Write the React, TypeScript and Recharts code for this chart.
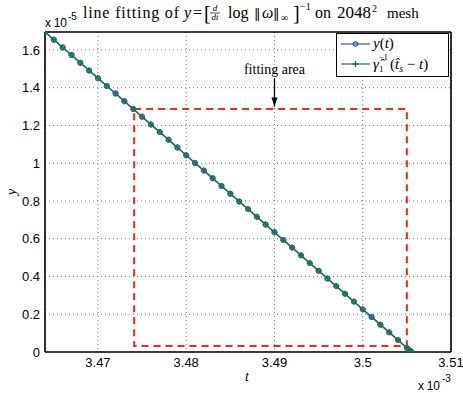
import React from "react";
import {
  LineChart,
  Line,
  XAxis,
  YAxis,
  CartesianGrid,
  ReferenceLine,
  ReferenceArea,
  ReferenceDot,
} from "recharts";

// t in units of 1e-3, y in units of 1e-5
const tValues = [
  3.464, 3.465, 3.466, 3.467, 3.468, 3.469, 3.47, 3.471, 3.472, 3.473, 3.474,
  3.475, 3.476, 3.477, 3.478, 3.479, 3.48, 3.481, 3.482, 3.483, 3.484, 3.485,
  3.486, 3.487, 3.488, 3.489, 3.49, 3.491, 3.492, 3.493, 3.494, 3.495, 3.496,
  3.497, 3.498, 3.499, 3.5, 3.501, 3.502, 3.503, 3.504, 3.505, 3.5053, 3.5055,
];
const yValues = [
  1.695, 1.654, 1.613, 1.573, 1.532, 1.491, 1.45, 1.409, 1.369, 1.328, 1.287,
  1.246, 1.205, 1.165, 1.124, 1.083, 1.042, 1.001, 0.961, 0.92, 0.879, 0.838,
  0.797, 0.757, 0.716, 0.675, 0.634, 0.593, 0.553, 0.512, 0.471, 0.43, 0.389,
  0.349, 0.308, 0.267, 0.226, 0.185, 0.145, 0.104, 0.063, 0.022, 0.01, 0.002,
];
const fitValues = [
  1.695, 1.654, 1.613, 1.573, 1.532, 1.491, 1.45, 1.409, 1.369, 1.328, 1.287,
  1.246, 1.205, 1.165, 1.124, 1.083, 1.042, 1.001, 0.961, 0.92, 0.879, 0.838,
  0.797, 0.757, 0.716, 0.675, 0.634, 0.593, 0.553, 0.512, 0.471, 0.43, 0.389,
  0.349, 0.308, 0.267, 0.226, 0.185, 0.145, 0.104, 0.063, 0.022, 0.01, 0.002,
];

const xTicks = [3.47, 3.48, 3.49, 3.5, 3.51];
const yTicks = [0, 0.2, 0.4, 0.6, 0.8, 1, 1.2, 1.4, 1.6];
const xDomain = [3.464, 3.51];
const yDomain = [0, 1.695];

// fitting area box and arrow annotation
const fitBox = { x1: 3.4741, x2: 3.505, y1: 0.032, y2: 1.287 };
const arrowX = 3.49;
const arrowFrom = 1.45;
const arrowTo = 1.3;
const arrowLabelY = 1.5;

const data = tValues.map((t, i) => ({ t, y: yValues[i], fit: fitValues[i] }));

const sans = "'Liberation Sans', Arial, sans-serif";
const serif = "'Liberation Serif', 'Times New Roman', serif";
const BLUE = "#3050c0";
const GREEN = "#1f7a3a";

const PlusDot = (props: any) => {
  const { cx, cy, index } = props;
  if (cx == null || cy == null) return <g key={index} />;
  return (
    <path
      key={index}
      d={`M${cx - 3},${cy}H${cx + 3}M${cx},${cy - 3}V${cy + 3}`}
      stroke={GREEN}
      strokeWidth={1.6}
    />
  );
};

const LegendBox = () => (
  <div
    style={{
      position: "absolute",
      left: 336,
      top: 33,
      width: 111,
      height: 42,
      border: "1.5px solid #000",
      background: "#fff",
    }}
  >
    <svg width={111} height={42}>
      <line x1={4} y1={10} x2={33} y2={10} stroke={BLUE} strokeWidth={1.2} />
      <circle cx={18.5} cy={10} r={2.2} fill="none" stroke={BLUE} strokeWidth={1.2} />
      <text x={36} y={14} fontFamily={serif} fontSize={15} fontStyle="italic">
        y<tspan fontStyle="normal">(</tspan>t<tspan fontStyle="normal">)</tspan>
      </text>
      <line x1={4} y1={30} x2={33} y2={30} stroke={GREEN} strokeWidth={1.2} />
      <path d="M15.5,30H21.5M18.5,27V33" stroke={GREEN} strokeWidth={1.4} />
      <text x={36} y={35} fontFamily={serif} fontSize={15} fontStyle="italic">
        γ̂
        <tspan fontSize={9} fontStyle="normal" dy={3}>1</tspan>
        <tspan fontSize={9} fontStyle="normal" dx={-5} dy={-12}>−1</tspan>
        <tspan fontStyle="normal" dx={2} dy={9}>(</tspan>
        t̂<tspan fontSize={10} dy={3}>s</tspan>
        <tspan fontStyle="normal" dy={-3}> − </tspan>t
        <tspan fontStyle="normal">)</tspan>
      </text>
    </svg>
  </div>
);

const ArrowHead = (props: any) => {
  const { cx, cy } = props;
  return <path d={`M${cx - 3},${cy - 9}L${cx + 3},${cy - 9}L${cx},${cy}Z`} fill="#000" />;
};

const AreaLabel = (props: any) => {
  const { cx, cy } = props;
  return (
    <text x={cx} y={cy + 5} textAnchor="middle" fontFamily={serif} fontSize={14} fill="#000">
      fitting area
    </text>
  );
};

export default function App() {
  return (
    <div style={{ position: "absolute", left: 0, top: 0, width: 463, height: 393, background: "#fff" }}>
      <LineChart
        width={463}
        height={393}
        data={data}
        margin={{ top: 32, right: 12, left: 0, bottom: 0 }}
      >
        <CartesianGrid stroke="#777" strokeDasharray="1 3" />
        <XAxis
          dataKey="t"
          type="number"
          domain={xDomain}
          ticks={xTicks}
          allowDataOverflow
          height={41}
          tickLine={false}
          tickSize={4}
          tickFormatter={(v: number) => String(v)}
          tick={{ fontFamily: sans, fontSize: 13, fill: "#000" }}
          axisLine={{ stroke: "#000", strokeWidth: 1.6 }}
        />
        <YAxis
          type="number"
          domain={yDomain}
          ticks={yTicks}
          allowDataOverflow
          width={45}
          tickLine={false}
          tickSize={3}
          tickFormatter={(v: number) => String(v)}
          tick={{ fontFamily: sans, fontSize: 13, fill: "#000" }}
          axisLine={{ stroke: "#000", strokeWidth: 1.6 }}
        />
        <ReferenceLine y={yDomain[1]} stroke="#000" strokeWidth={1.6} />
        <ReferenceLine x={xDomain[1]} stroke="#000" strokeWidth={1.6} />
        <ReferenceArea
          x1={fitBox.x1}
          x2={fitBox.x2}
          y1={fitBox.y1}
          y2={fitBox.y2}
          fill="none"
          fillOpacity={0}
          stroke="#ff2020"
          strokeWidth={2}
          strokeDasharray="7 5"
        />
        <ReferenceLine
          segment={[
            { x: arrowX, y: arrowFrom },
            { x: arrowX, y: arrowTo },
          ]}
          stroke="#000"
          strokeWidth={1.3}
        />
        <ReferenceDot x={arrowX} y={arrowTo} shape={ArrowHead} />
        <ReferenceDot x={arrowX} y={arrowLabelY} shape={AreaLabel} />
        <Line
          dataKey="y"
          stroke={BLUE}
          strokeWidth={1.2}
          dot={{ r: 2.3, fill: "none", stroke: BLUE, strokeWidth: 1.3 }}
          isAnimationActive={false}
        />
        <Line
          dataKey="fit"
          stroke={GREEN}
          strokeWidth={1.5}
          dot={PlusDot}
          isAnimationActive={false}
        />
      </LineChart>
      <LegendBox />
      <svg
        width={463}
        height={393}
        style={{ position: "absolute", left: 0, top: 0, pointerEvents: "none" }}
      >
        <text x={45} y={27} fontFamily={sans} fontSize={12} textLength={22}>x 10</text>
        <text x={68} y={20} fontFamily={sans} fontSize={10}>-5</text>
        <text x={418} y={390} fontFamily={sans} fontSize={12} textLength={22}>x 10</text>
        <text x={442} y={382} fontFamily={sans} fontSize={10}>-3</text>
        <text x={247} y={381} fontFamily={serif} fontSize={14} fontStyle="italic" textAnchor="middle">t</text>
        <text
          x={16}
          y={192}
          fontFamily={serif}
          fontSize={14}
          fontStyle="italic"
          textAnchor="middle"
          transform="rotate(-90 16 192)"
        >
          y
        </text>
        {/* title */}
        <text x={83} y={18} fontFamily={serif} fontSize={16} textLength={96}>
          line fitting of
        </text>
        <text x={184} y={18} fontFamily={serif} fontSize={16} fontStyle="italic">y</text>
        <text x={193} y={18} fontFamily={serif} fontSize={16}>=</text>
        <text x={204} y={20} fontFamily={serif} fontSize={20}>[</text>
        <text x={215} y={11} fontFamily={serif} fontSize={9} fontStyle="italic" textAnchor="middle">d</text>
        <line x1={210} y1={13} x2={220} y2={13} stroke="#000" strokeWidth={0.7} />
        <text x={215} y={20} fontFamily={serif} fontSize={9} fontStyle="italic" textAnchor="middle">dt</text>
        <text x={228} y={18} fontFamily={serif} fontSize={16}>log</text>
        <text x={254} y={18} fontFamily="'DejaVu Serif', serif" fontSize={13}>‖</text>
        <text x={262} y={18} fontFamily={serif} fontSize={16} fontStyle="italic">ω</text>
        <text x={273} y={18} fontFamily="'DejaVu Serif', serif" fontSize={13}>‖</text>
        <text x={281} y={21} fontFamily={serif} fontSize={10}>∞</text>
        <text x={293} y={20} fontFamily={serif} fontSize={20}>]</text>
        <text x={300} y={10} fontFamily={serif} fontSize={10}>−1</text>
        <text x={315} y={18} fontFamily={serif} fontSize={16}>on</text>
        <text x={337} y={18} fontFamily={serif} fontSize={17}>2048</text>
        <text x={372} y={12} fontFamily={serif} fontSize={10}>2</text>
        <text x={387} y={18} fontFamily={serif} fontSize={15}>mesh</text>
      </svg>
    </div>
  );
}
